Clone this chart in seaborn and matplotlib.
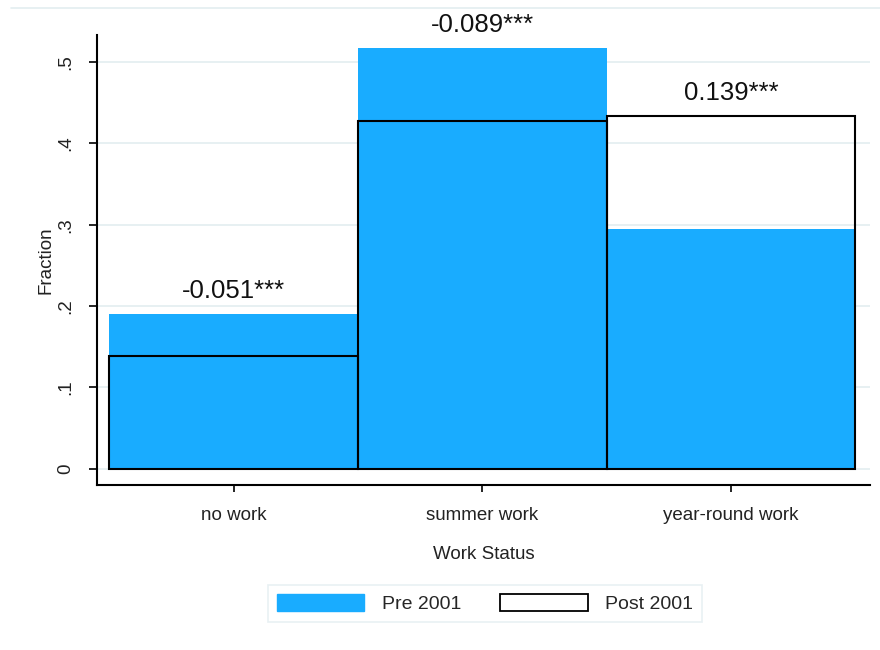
import pandas as pd
import numpy as np
import matplotlib
matplotlib.use("Agg")
import matplotlib.pyplot as plt
from matplotlib.patches import Patch
import seaborn as sns

# values
categories = ["no work", "summer work", "year-round work"]
pre_2001 = [0.190, 0.517, 0.295]
post_2001 = [0.139, 0.428, 0.434]
diff_labels = ["-0.051***", "-0.089***", "0.139***"]
y_ticks = [0, 0.1, 0.2, 0.3, 0.4, 0.5]
y_tick_labels = ["0", ".1", ".2", ".3", ".4", ".5"]

blue = "#19acff"
grid_col = "#e3edf0"

sns.set_style("white")
plt.rcParams["font.family"] = ["Liberation Sans", "DejaVu Sans"]

df = pd.DataFrame({"status": categories, "pre": pre_2001, "post": post_2001})

fig = plt.figure(figsize=(8.8, 6.5), dpi=100)
ax = fig.add_axes([0.110, 0.254, 0.879, 0.692])

for y in y_ticks:
    ax.axhline(y, color=grid_col, lw=1.2, zorder=0)

sns.barplot(data=df, x="status", y="pre", color=blue, saturation=1,
            width=1, linewidth=0, ax=ax, zorder=2)
sns.barplot(data=df, x="status", y="post", width=1, ax=ax,
            facecolor="none", edgecolor="black", linewidth=1.5, zorder=3)

for i, lab in enumerate(diff_labels):
    top = max(pre_2001[i], post_2001[i])
    ax.annotate(lab, (i, top), xytext=(0, 16.5), textcoords="offset points",
                ha="center", va="center", fontsize=18.5, color="#111111")

ax.set_xlim(-0.55, 2.56)
ax.set_ylim(-0.0197, 0.533)
ax.set_yticks(y_ticks)
ax.set_yticklabels(y_tick_labels, rotation=90, va="center", fontsize=13.5)
ax.tick_params(axis="x", labelsize=13.5, length=5, width=1.2, pad=11, colors="#222222")
ax.tick_params(axis="y", length=6, width=1.2, pad=10, colors="#222222")
ax.tick_params(bottom=True, left=True, color="black")
ax.set_xlabel("Work Status", fontsize=13.5, labelpad=16, color="#222222")
ax.set_ylabel("Fraction", fontsize=13.5, labelpad=2, color="#222222")

sns.despine(ax=ax)
for s in ["left", "bottom"]:
    ax.spines[s].set_color("black")
    ax.spines[s].set_linewidth(1.5)

handles = [Patch(facecolor=blue, edgecolor=blue, label="Pre 2001"),
           Patch(facecolor="white", edgecolor="black", linewidth=1.3, label="Post 2001")]
leg = fig.legend(handles=handles, loc="center", bbox_to_anchor=(0.551, 0.072),
                 ncol=2, fontsize=14, frameon=True, fancybox=False,
                 handlelength=4.5, handleheight=1.0, handletextpad=0.9,
                 columnspacing=2.0, borderpad=0.45)
leg.get_frame().set_edgecolor(grid_col)
leg.get_frame().set_linewidth(1.2)

fig.add_artist(plt.Line2D([0.012, 1.0], [0.988, 0.988], color=grid_col, lw=1.2))

fig.savefig("out.png", dpi=100)
